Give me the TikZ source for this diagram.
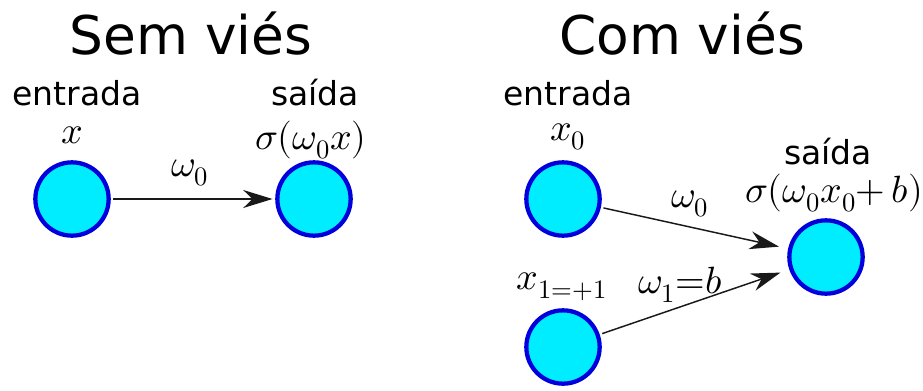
\documentclass[tikz,border=0pt]{standalone}
\usepackage{fontspec}
\usepackage{unicode-math}
\setmainfont{DejaVu Sans}
\setmathfont{Latin Modern Math}
\usetikzlibrary{arrows.meta, positioning}

\begin{document}
\begin{tikzpicture}[
    x=0.75pt, y=-0.75pt,
    neuron/.style={circle, draw=nblue, fill=ncyan, line width=3.2pt, minimum size=55pt, inner sep=0pt},
    heading/.style={font=\fontsize{40}{48}\selectfont},
    tag/.style={font=\fontsize{24.75}{30}\selectfont},
    mth/.style={font=\fontsize{28.5}{34}\selectfont, inner sep=0pt},
    weight/.style={-{Stealth[length=22pt, width=13.5pt, inset=7pt]}, line width=1.1pt, draw=black!90, shorten <=2pt}
]

\definecolor{nblue}{RGB}{0,0,220}
\definecolor{ncyan}{RGB}{0,236,255}

\useasboundingbox (0,0) rectangle (923,390);

% sem vies
\node[heading] (title_sem) at (191, 34) {Sem viés};
\node[neuron] (in_x) at (72, 199) {};
\node[neuron] (out_sem) at (314, 199) {};
\node[tag] (in_tag) at (77, 93) {entrada};
\node[tag] (out_tag) at (315, 93) {saída};
\node[mth] (in_val) at (72, 135) {$x$};
\node[mth] (out_val) at (311, 140) {$\sigma(\omega_0x)$};
\node[mth] (w_sem) at (190, 173) {$\omega_0$};
\draw[weight, shorten >=2pt] (in_x) -- (out_sem);

% com vies
\node[heading] (title_com) at (682, 34) {Com viés};
\node[neuron] (in_x0) at (563, 199) {};
\node[neuron] (in_x1) at (563, 347) {};
\node[neuron] (out_com) at (826, 257) {};
\node[tag] (in_tag2) at (568, 93) {entrada};
\node[tag] (out_tag2) at (828, 152) {saída};
\node[mth] (x0_val) at (568, 137) {$x_0$};
\node[mth] (x1_val) at (562, 287) {$x_{1{=}{+}1}$};
\node[mth, anchor=west] (out_val2) at (745, 193) {$\sigma(\omega_0x_0{+}\,b)$};
\node[mth] (w0_com) at (690, 204) {$\omega_0$};
\node[mth] (w1_com) at (680, 285) {$\omega_1{=}b$};
\draw[weight, shorten >=7pt] (in_x0) -- (out_com);
\draw[weight, shorten >=7pt] (in_x1) -- (out_com);

\end{tikzpicture}
\end{document}
